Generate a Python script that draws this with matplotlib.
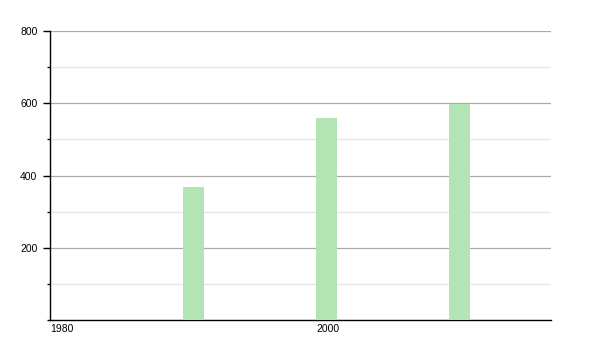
import matplotlib.pyplot as plt
from matplotlib.ticker import MultipleLocator
from matplotlib.transforms import ScaledTranslation

years = [1990, 2000, 2010]
values = [367, 558, 598]
xticks = [1980, 2000]
yticks = [200, 400, 600, 800]

plt.rcParams['font.family'] = ['Liberation Sans', 'DejaVu Sans']

fig = plt.figure(figsize=(6, 3.5), dpi=100)
ax = fig.add_axes([50/600, 30/350, 501/600, 289/350])

ax.bar(years, values, width=1.58, align='edge', color='#b3e5b4', zorder=3)

ax.set_xlim(1980, 2017.67)
ax.set_ylim(0, 800)
ax.set_yticks(yticks)
ax.yaxis.set_minor_locator(MultipleLocator(100))
ax.set_xticks(xticks)
ax.set_xticklabels([str(x) for x in xticks], ha='left')
# nudge the year labels a little to the left, as in the original
shift = ScaledTranslation(-3/100, 0, fig.dpi_scale_trans)
for lbl in ax.get_xticklabels():
    lbl.set_transform(lbl.get_transform() + shift)

ax.grid(axis='y', which='major', color='#aaaaaa', linewidth=0.9, zorder=0)
ax.grid(axis='y', which='minor', color='#e6e6e6', linewidth=0.9, zorder=0)

for s in ['top', 'right']:
    ax.spines[s].set_visible(False)
ax.spines['left'].set_linewidth(1)
ax.spines['bottom'].set_linewidth(1)

ax.tick_params(axis='y', which='major', length=5, width=1, labelsize=7.5, pad=4)
ax.tick_params(axis='y', which='minor', length=2.5, width=1)
ax.tick_params(axis='x', length=0, labelsize=7.5, pad=3)

fig.savefig('out.png', dpi=100)
